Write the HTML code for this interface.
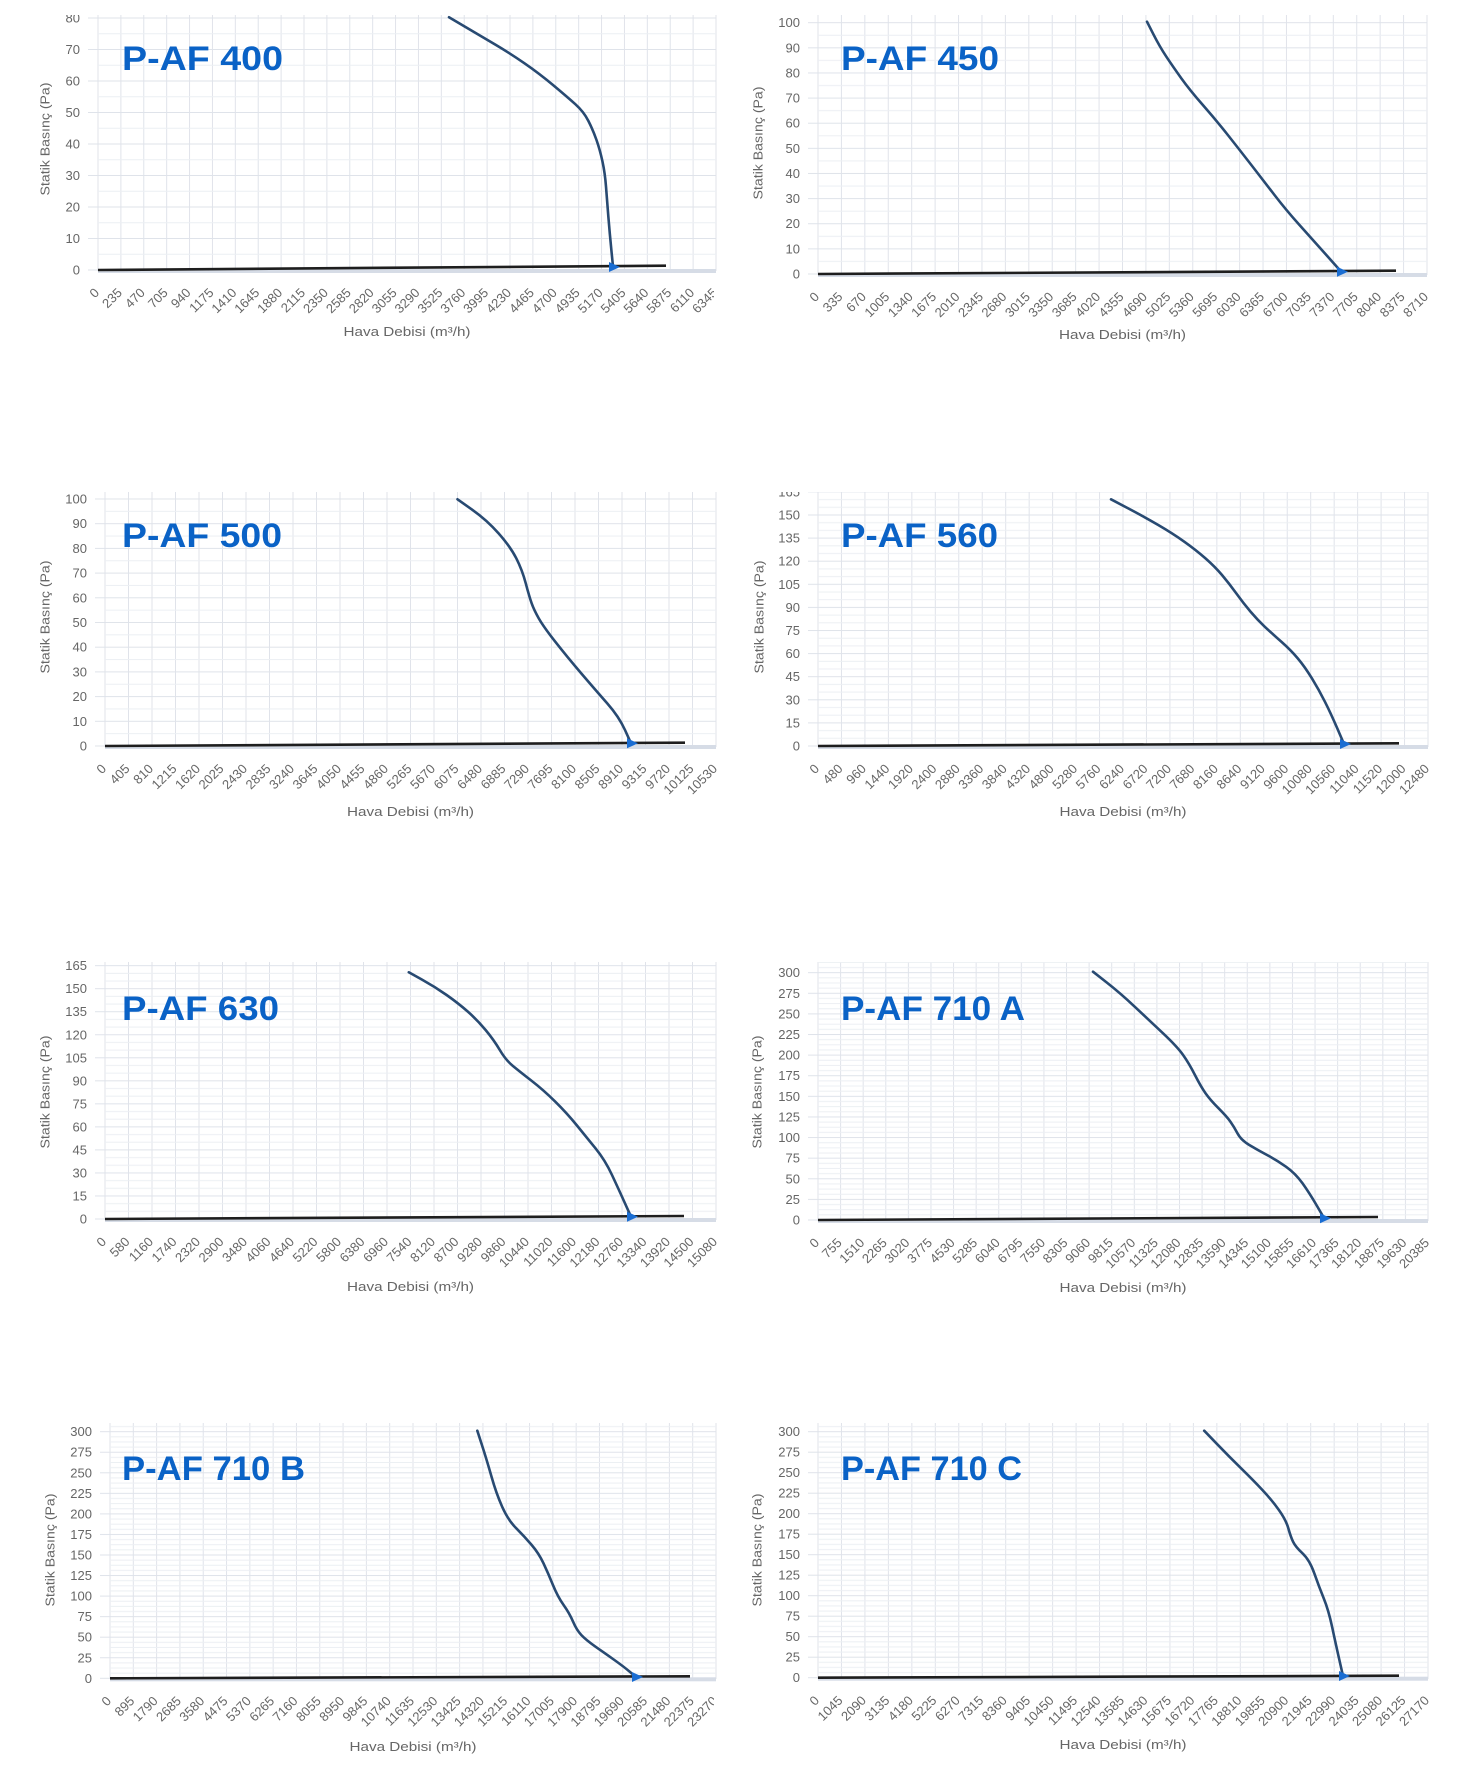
<!DOCTYPE html>
<html><head><meta charset="utf-8"><style>
html,body{margin:0;padding:0;background:#fff;}
svg{display:block;}
text{font-family:"Liberation Sans",Arial,sans-serif;}
.xl text{font-size:13px;fill:#666;text-anchor:end;transform:rotate(-45deg);}
.yl text{font-size:13px;fill:#666;text-anchor:end;}
.at{font-size:13px;fill:#666;text-anchor:middle;}
.tt{font-size:34px;font-weight:bold;fill:#0a62c6;}
.cv{fill:none;stroke:#284a72;stroke-width:2.6;stroke-linejoin:round;stroke-linecap:round;}
.bl{stroke:#1e1e1e;stroke-width:2.6;}
.bd{fill:#d6dce6;}
.ar{fill:#1a6dd2;}
</style></head><body>
<svg width="1473" height="1787" viewBox="0 0 1473 1787" xmlns="http://www.w3.org/2000/svg">
<rect width="1473" height="1787" fill="#fff"/>
<defs>
<clipPath id="clipL"><rect x="0" y="0" width="714" height="1787"/></clipPath>
<clipPath id="cy1"><rect x="0" y="15" width="200" height="300"/></clipPath>
<clipPath id="cy4"><rect x="700" y="492" width="200" height="300"/></clipPath>
<pattern id="v1" patternUnits="userSpaceOnUse" x="97.5" y="0" width="22.889" height="4"><rect width="1" height="4" fill="#e0e3ea"/></pattern>
<pattern id="h1" patternUnits="userSpaceOnUse" x="0" y="269.5" width="4" height="31.5"><rect width="4" height="1" fill="#dfe3ea"/><rect y="15.75" width="4" height="1" fill="#eceff3"/></pattern>
<pattern id="k1" patternUnits="userSpaceOnUse" x="0" y="269.5" width="4" height="31.5"><rect width="4" height="1" fill="#dfe3ea"/></pattern>
<pattern id="v2" patternUnits="userSpaceOnUse" x="817.5" y="0" width="23.423" height="4"><rect width="1" height="4" fill="#e0e3ea"/></pattern>
<pattern id="h2" patternUnits="userSpaceOnUse" x="0" y="273.5" width="4" height="25.13"><rect width="4" height="1" fill="#dfe3ea"/><rect y="12.565" width="4" height="1" fill="#eceff3"/></pattern>
<pattern id="k2" patternUnits="userSpaceOnUse" x="0" y="273.5" width="4" height="25.13"><rect width="4" height="1" fill="#dfe3ea"/></pattern>
<pattern id="v3" patternUnits="userSpaceOnUse" x="104.5" y="0" width="23.5" height="4"><rect width="1" height="4" fill="#e0e3ea"/></pattern>
<pattern id="h3" patternUnits="userSpaceOnUse" x="0" y="745.5" width="4" height="24.7"><rect width="4" height="1" fill="#dfe3ea"/><rect y="12.35" width="4" height="1" fill="#eceff3"/></pattern>
<pattern id="k3" patternUnits="userSpaceOnUse" x="0" y="745.5" width="4" height="24.7"><rect width="4" height="1" fill="#dfe3ea"/></pattern>
<pattern id="v4" patternUnits="userSpaceOnUse" x="817.5" y="0" width="23.462" height="4"><rect width="1" height="4" fill="#e0e3ea"/></pattern>
<pattern id="h4" patternUnits="userSpaceOnUse" x="0" y="745.5" width="4" height="23.1"><rect width="4" height="1" fill="#dfe3ea"/><rect y="7.7" width="4" height="1" fill="#eceff3"/><rect y="15.4" width="4" height="1" fill="#eceff3"/></pattern>
<pattern id="k4" patternUnits="userSpaceOnUse" x="0" y="745.5" width="4" height="23.1"><rect width="4" height="1" fill="#dfe3ea"/></pattern>
<pattern id="v5" patternUnits="userSpaceOnUse" x="104.5" y="0" width="23.5" height="4"><rect width="1" height="4" fill="#e0e3ea"/></pattern>
<pattern id="h5" patternUnits="userSpaceOnUse" x="0" y="1218.5" width="4" height="23.03"><rect width="4" height="1" fill="#dfe3ea"/><rect y="7.677" width="4" height="1" fill="#eceff3"/><rect y="15.353" width="4" height="1" fill="#eceff3"/></pattern>
<pattern id="k5" patternUnits="userSpaceOnUse" x="0" y="1218.5" width="4" height="23.03"><rect width="4" height="1" fill="#dfe3ea"/></pattern>
<pattern id="v6" patternUnits="userSpaceOnUse" x="817.5" y="0" width="22.593" height="4"><rect width="1" height="4" fill="#e0e3ea"/></pattern>
<pattern id="h6" patternUnits="userSpaceOnUse" x="0" y="1219.5" width="4" height="20.61"><rect width="4" height="1" fill="#dfe3ea"/><rect y="5.153" width="4" height="1" fill="#eceff3"/><rect y="10.305" width="4" height="1" fill="#eceff3"/><rect y="15.458" width="4" height="1" fill="#eceff3"/></pattern>
<pattern id="k6" patternUnits="userSpaceOnUse" x="0" y="1219.5" width="4" height="20.61"><rect width="4" height="1" fill="#dfe3ea"/></pattern>
<pattern id="v7" patternUnits="userSpaceOnUse" x="109.5" y="0" width="23.308" height="4"><rect width="1" height="4" fill="#e0e3ea"/></pattern>
<pattern id="h7" patternUnits="userSpaceOnUse" x="0" y="1677.8" width="4" height="20.55"><rect width="4" height="1" fill="#dfe3ea"/><rect y="5.138" width="4" height="1" fill="#eceff3"/><rect y="10.275" width="4" height="1" fill="#eceff3"/><rect y="15.413" width="4" height="1" fill="#eceff3"/></pattern>
<pattern id="k7" patternUnits="userSpaceOnUse" x="0" y="1677.8" width="4" height="20.55"><rect width="4" height="1" fill="#dfe3ea"/></pattern>
<pattern id="v8" patternUnits="userSpaceOnUse" x="817.5" y="0" width="23.462" height="4"><rect width="1" height="4" fill="#e0e3ea"/></pattern>
<pattern id="h8" patternUnits="userSpaceOnUse" x="0" y="1677.2" width="4" height="20.5"><rect width="4" height="1" fill="#dfe3ea"/><rect y="5.125" width="4" height="1" fill="#eceff3"/><rect y="10.25" width="4" height="1" fill="#eceff3"/><rect y="15.375" width="4" height="1" fill="#eceff3"/></pattern>
<pattern id="k8" patternUnits="userSpaceOnUse" x="0" y="1677.2" width="4" height="20.5"><rect width="4" height="1" fill="#dfe3ea"/></pattern>
</defs>

<!-- C1 P-AF 400 -->
<rect x="97.5" y="15" width="619.1" height="256" fill="url(#v1)"/>
<rect x="98" y="15" width="618" height="256" fill="url(#h1)"/>
<rect x="88" y="15" width="10" height="256" fill="url(#k1)"/>
<rect class="bd" x="98" y="269" width="618" height="4"/>
<line class="bl" x1="98" y1="270" x2="666" y2="265.7"/>
<path class="cv" d="M449,17.3 L465.5,27 Q482,36.7 496,45 Q510,53.3 524.5,63.3 Q539,73.3 553,85 Q567,96.7 575.35,104.2 Q583.7,111.7 588.35,120.85 Q593,130 596.5,140 Q600,150 602.5,161.65 Q605,173.3 606,186.65 Q607,200 608.35,216.65 Q609.7,233.3 611.35,249.9 L613,266.5"/>
<polygon class="ar" points="609,262 620,267 609,272"/>
<text class="tt" x="122" y="70" textLength="161" lengthAdjust="spacingAndGlyphs">P-AF 400</text>
<g class="yl" clip-path="url(#cy1)"><g transform="translate(80,274.5)"><text>0</text><g transform="translate(0,-31.5)"><text>10</text><g transform="translate(0,-31.5)"><text>20</text><g transform="translate(0,-31.5)"><text>30</text><g transform="translate(0,-31.5)"><text>40</text><g transform="translate(0,-31.5)"><text>50</text><g transform="translate(0,-31.5)"><text>60</text><g transform="translate(0,-31.5)"><text>70</text><g transform="translate(0,-31.5)"><text>80</text></g></g></g></g></g></g></g></g></g></g>
<g clip-path="url(#clipL)"><g class="xl" transform="translate(100,293.5)"><text>0</text><g transform="translate(22.889)"><text>235</text><g transform="translate(22.889)"><text>470</text><g transform="translate(22.889)"><text>705</text><g transform="translate(22.889)"><text>940</text><g transform="translate(22.889)"><text>1175</text><g transform="translate(22.889)"><text>1410</text><g transform="translate(22.889)"><text>1645</text><g transform="translate(22.889)"><text>1880</text><g transform="translate(22.889)"><text>2115</text><g transform="translate(22.889)"><text>2350</text><g transform="translate(22.889)"><text>2585</text><g transform="translate(22.889)"><text>2820</text><g transform="translate(22.889)"><text>3055</text><g transform="translate(22.889)"><text>3290</text><g transform="translate(22.889)"><text>3525</text><g transform="translate(22.889)"><text>3760</text><g transform="translate(22.889)"><text>3995</text><g transform="translate(22.889)"><text>4230</text><g transform="translate(22.889)"><text>4465</text><g transform="translate(22.889)"><text>4700</text><g transform="translate(22.889)"><text>4935</text><g transform="translate(22.889)"><text>5170</text><g transform="translate(22.889)"><text>5405</text><g transform="translate(22.889)"><text>5640</text><g transform="translate(22.889)"><text>5875</text><g transform="translate(22.889)"><text>6110</text><g transform="translate(22.889)"><text>6345</text></g></g></g></g></g></g></g></g></g></g></g></g></g></g></g></g></g></g></g></g></g></g></g></g></g></g></g></g></g>
<text class="at" x="407" y="336" textLength="127" lengthAdjust="spacingAndGlyphs">Hava Debisi (m³/h)</text>
<text class="at" transform="translate(49.5,139) rotate(-90)" textLength="113" lengthAdjust="spacingAndGlyphs">Statik Basınç (Pa)</text>

<!-- C2 P-AF 450 -->
<rect x="817.5" y="15" width="610.1" height="260" fill="url(#v2)"/>
<rect x="818" y="15" width="609" height="260" fill="url(#h2)"/>
<rect x="808" y="15" width="10" height="260" fill="url(#k2)"/>
<rect class="bd" x="818" y="273" width="609" height="4"/>
<line class="bl" x1="818" y1="274" x2="1396" y2="270.7"/>
<path class="cv" d="M1147,21.7 L1153.35,34.2 Q1159.7,46.7 1166.35,56.7 Q1173,66.7 1181.35,78.35 Q1189.7,90 1202.85,105 Q1216,120 1227.85,135 Q1239.7,150 1251.35,165 Q1263,180 1274.5,195 Q1286,210 1299.5,225 Q1313,240 1327,255.75 L1341,271.5"/>
<polygon class="ar" points="1337,266.7 1348,271.7 1337,276.7"/>
<text class="tt" x="841" y="70" textLength="158" lengthAdjust="spacingAndGlyphs">P-AF 450</text>
<g class="yl"><g transform="translate(800,278.5)"><text>0</text><g transform="translate(0,-25.13)"><text>10</text><g transform="translate(0,-25.13)"><text>20</text><g transform="translate(0,-25.13)"><text>30</text><g transform="translate(0,-25.13)"><text>40</text><g transform="translate(0,-25.13)"><text>50</text><g transform="translate(0,-25.13)"><text>60</text><g transform="translate(0,-25.13)"><text>70</text><g transform="translate(0,-25.13)"><text>80</text><g transform="translate(0,-25.13)"><text>90</text><g transform="translate(0,-25.13)"><text>100</text></g></g></g></g></g></g></g></g></g></g></g></g>
<g class="xl" transform="translate(820,297.5)"><text>0</text><g transform="translate(23.423)"><text>335</text><g transform="translate(23.423)"><text>670</text><g transform="translate(23.423)"><text>1005</text><g transform="translate(23.423)"><text>1340</text><g transform="translate(23.423)"><text>1675</text><g transform="translate(23.423)"><text>2010</text><g transform="translate(23.423)"><text>2345</text><g transform="translate(23.423)"><text>2680</text><g transform="translate(23.423)"><text>3015</text><g transform="translate(23.423)"><text>3350</text><g transform="translate(23.423)"><text>3685</text><g transform="translate(23.423)"><text>4020</text><g transform="translate(23.423)"><text>4355</text><g transform="translate(23.423)"><text>4690</text><g transform="translate(23.423)"><text>5025</text><g transform="translate(23.423)"><text>5360</text><g transform="translate(23.423)"><text>5695</text><g transform="translate(23.423)"><text>6030</text><g transform="translate(23.423)"><text>6365</text><g transform="translate(23.423)"><text>6700</text><g transform="translate(23.423)"><text>7035</text><g transform="translate(23.423)"><text>7370</text><g transform="translate(23.423)"><text>7705</text><g transform="translate(23.423)"><text>8040</text><g transform="translate(23.423)"><text>8375</text><g transform="translate(23.423)"><text>8710</text></g></g></g></g></g></g></g></g></g></g></g></g></g></g></g></g></g></g></g></g></g></g></g></g></g></g></g>
<text class="at" x="1122.5" y="339" textLength="127" lengthAdjust="spacingAndGlyphs">Hava Debisi (m³/h)</text>
<text class="at" transform="translate(762.5,143) rotate(-90)" textLength="113" lengthAdjust="spacingAndGlyphs">Statik Basınç (Pa)</text>

<!-- C3 P-AF 500 -->
<rect x="104.5" y="492" width="612.1" height="255" fill="url(#v3)"/>
<rect x="105" y="492" width="611" height="255" fill="url(#h3)"/>
<rect x="95" y="492" width="10" height="255" fill="url(#k3)"/>
<rect class="bd" x="105" y="745" width="611" height="4"/>
<line class="bl" x1="105" y1="746" x2="685" y2="742.7"/>
<path class="cv" d="M457.5,499.3 L472.15,509.65 Q486.8,520 498.6,533.35 Q510.4,546.7 516.3,558.35 Q522.2,570 525.75,583.35 Q529.3,596.7 531.65,603.35 Q534,610 538.75,618.35 Q543.5,626.7 555.25,641.7 Q567,656.7 581.25,673.35 Q595.5,690 607.25,703.35 Q619,716.7 625,730 L631,743.3"/>
<polygon class="ar" points="627,738.3 638,743.3 627,748.3"/>
<text class="tt" x="122" y="547" textLength="160" lengthAdjust="spacingAndGlyphs">P-AF 500</text>
<g class="yl"><g transform="translate(87,750.5)"><text>0</text><g transform="translate(0,-24.7)"><text>10</text><g transform="translate(0,-24.7)"><text>20</text><g transform="translate(0,-24.7)"><text>30</text><g transform="translate(0,-24.7)"><text>40</text><g transform="translate(0,-24.7)"><text>50</text><g transform="translate(0,-24.7)"><text>60</text><g transform="translate(0,-24.7)"><text>70</text><g transform="translate(0,-24.7)"><text>80</text><g transform="translate(0,-24.7)"><text>90</text><g transform="translate(0,-24.7)"><text>100</text></g></g></g></g></g></g></g></g></g></g></g></g>
<g class="xl" transform="translate(107,769.5)"><text>0</text><g transform="translate(23.5)"><text>405</text><g transform="translate(23.5)"><text>810</text><g transform="translate(23.5)"><text>1215</text><g transform="translate(23.5)"><text>1620</text><g transform="translate(23.5)"><text>2025</text><g transform="translate(23.5)"><text>2430</text><g transform="translate(23.5)"><text>2835</text><g transform="translate(23.5)"><text>3240</text><g transform="translate(23.5)"><text>3645</text><g transform="translate(23.5)"><text>4050</text><g transform="translate(23.5)"><text>4455</text><g transform="translate(23.5)"><text>4860</text><g transform="translate(23.5)"><text>5265</text><g transform="translate(23.5)"><text>5670</text><g transform="translate(23.5)"><text>6075</text><g transform="translate(23.5)"><text>6480</text><g transform="translate(23.5)"><text>6885</text><g transform="translate(23.5)"><text>7290</text><g transform="translate(23.5)"><text>7695</text><g transform="translate(23.5)"><text>8100</text><g transform="translate(23.5)"><text>8505</text><g transform="translate(23.5)"><text>8910</text><g transform="translate(23.5)"><text>9315</text><g transform="translate(23.5)"><text>9720</text><g transform="translate(23.5)"><text>10125</text><g transform="translate(23.5)"><text>10530</text></g></g></g></g></g></g></g></g></g></g></g></g></g></g></g></g></g></g></g></g></g></g></g></g></g></g></g>
<text class="at" x="410.5" y="816" textLength="127" lengthAdjust="spacingAndGlyphs">Hava Debisi (m³/h)</text>
<text class="at" transform="translate(49.5,617) rotate(-90)" textLength="113" lengthAdjust="spacingAndGlyphs">Statik Basınç (Pa)</text>

<!-- C4 P-AF 560 -->
<rect x="817.5" y="492" width="611.1" height="255" fill="url(#v4)"/>
<rect x="818" y="492" width="610" height="255" fill="url(#h4)"/>
<rect x="808" y="492" width="10" height="255" fill="url(#k4)"/>
<rect class="bd" x="818" y="745" width="610" height="4"/>
<line class="bl" x1="818" y1="746" x2="1399" y2="743.3"/>
<path class="cv" d="M1111,499.3 L1127.5,508 Q1144,516.7 1158.25,525 Q1172.5,533.3 1184.25,541.65 Q1196,550 1205.5,558.35 Q1215,566.7 1222,575 Q1229,583.3 1236.2,593.3 Q1243.4,603.3 1250.5,611.65 Q1257.6,620 1264.7,626.65 Q1271.8,633.3 1281.25,641.65 Q1290.7,650 1297.75,658.35 Q1304.8,666.7 1311.9,678.35 Q1319,690 1324.9,701.65 Q1330.8,713.3 1337.4,728.65 L1344,744"/>
<polygon class="ar" points="1340,739 1351,744 1340,749"/>
<text class="tt" x="841" y="547" textLength="157" lengthAdjust="spacingAndGlyphs">P-AF 560</text>
<g class="yl" clip-path="url(#cy4)"><g transform="translate(800,750.5)"><text>0</text><g transform="translate(0,-23.1)"><text>15</text><g transform="translate(0,-23.1)"><text>30</text><g transform="translate(0,-23.1)"><text>45</text><g transform="translate(0,-23.1)"><text>60</text><g transform="translate(0,-23.1)"><text>75</text><g transform="translate(0,-23.1)"><text>90</text><g transform="translate(0,-23.1)"><text>105</text><g transform="translate(0,-23.1)"><text>120</text><g transform="translate(0,-23.1)"><text>135</text><g transform="translate(0,-23.1)"><text>150</text><g transform="translate(0,-23.1)"><text>165</text></g></g></g></g></g></g></g></g></g></g></g></g></g>
<g class="xl" transform="translate(820,769.5)"><text>0</text><g transform="translate(23.462)"><text>480</text><g transform="translate(23.462)"><text>960</text><g transform="translate(23.462)"><text>1440</text><g transform="translate(23.462)"><text>1920</text><g transform="translate(23.462)"><text>2400</text><g transform="translate(23.462)"><text>2880</text><g transform="translate(23.462)"><text>3360</text><g transform="translate(23.462)"><text>3840</text><g transform="translate(23.462)"><text>4320</text><g transform="translate(23.462)"><text>4800</text><g transform="translate(23.462)"><text>5280</text><g transform="translate(23.462)"><text>5760</text><g transform="translate(23.462)"><text>6240</text><g transform="translate(23.462)"><text>6720</text><g transform="translate(23.462)"><text>7200</text><g transform="translate(23.462)"><text>7680</text><g transform="translate(23.462)"><text>8160</text><g transform="translate(23.462)"><text>8640</text><g transform="translate(23.462)"><text>9120</text><g transform="translate(23.462)"><text>9600</text><g transform="translate(23.462)"><text>10080</text><g transform="translate(23.462)"><text>10560</text><g transform="translate(23.462)"><text>11040</text><g transform="translate(23.462)"><text>11520</text><g transform="translate(23.462)"><text>12000</text><g transform="translate(23.462)"><text>12480</text></g></g></g></g></g></g></g></g></g></g></g></g></g></g></g></g></g></g></g></g></g></g></g></g></g></g></g>
<text class="at" x="1123" y="816" textLength="127" lengthAdjust="spacingAndGlyphs">Hava Debisi (m³/h)</text>
<text class="at" transform="translate(763.5,617) rotate(-90)" textLength="113" lengthAdjust="spacingAndGlyphs">Statik Basınç (Pa)</text>

<!-- C5 P-AF 630 -->
<rect x="104.5" y="962" width="612.1" height="258" fill="url(#v5)"/>
<rect x="105" y="962" width="611" height="258" fill="url(#h5)"/>
<rect x="95" y="962" width="10" height="258" fill="url(#k5)"/>
<rect class="bd" x="105" y="1218" width="611" height="4"/>
<line class="bl" x1="105" y1="1219" x2="684" y2="1216"/>
<path class="cv" d="M408.8,972.3 L421.8,979.5 Q434.8,986.7 446.6,995 Q458.4,1003.3 467.85,1011.65 Q477.3,1020 485.6,1030 Q493.9,1040 499.8,1050 Q505.7,1060 512.8,1065.85 Q519.9,1071.7 531.7,1080.85 Q543.5,1090 555.3,1101.65 Q567.1,1113.3 576.55,1125 Q586,1136.7 595.5,1148.35 Q605,1160 612,1175 Q619,1190 625,1203.35 L631,1216.7"/>
<polygon class="ar" points="627,1211.7 638,1216.7 627,1221.7"/>
<text class="tt" x="122" y="1020" textLength="157" lengthAdjust="spacingAndGlyphs">P-AF 630</text>
<g class="yl"><g transform="translate(87,1223.5)"><text>0</text><g transform="translate(0,-23.03)"><text>15</text><g transform="translate(0,-23.03)"><text>30</text><g transform="translate(0,-23.03)"><text>45</text><g transform="translate(0,-23.03)"><text>60</text><g transform="translate(0,-23.03)"><text>75</text><g transform="translate(0,-23.03)"><text>90</text><g transform="translate(0,-23.03)"><text>105</text><g transform="translate(0,-23.03)"><text>120</text><g transform="translate(0,-23.03)"><text>135</text><g transform="translate(0,-23.03)"><text>150</text><g transform="translate(0,-23.03)"><text>165</text></g></g></g></g></g></g></g></g></g></g></g></g></g>
<g class="xl" transform="translate(107,1242.5)"><text>0</text><g transform="translate(23.5)"><text>580</text><g transform="translate(23.5)"><text>1160</text><g transform="translate(23.5)"><text>1740</text><g transform="translate(23.5)"><text>2320</text><g transform="translate(23.5)"><text>2900</text><g transform="translate(23.5)"><text>3480</text><g transform="translate(23.5)"><text>4060</text><g transform="translate(23.5)"><text>4640</text><g transform="translate(23.5)"><text>5220</text><g transform="translate(23.5)"><text>5800</text><g transform="translate(23.5)"><text>6380</text><g transform="translate(23.5)"><text>6960</text><g transform="translate(23.5)"><text>7540</text><g transform="translate(23.5)"><text>8120</text><g transform="translate(23.5)"><text>8700</text><g transform="translate(23.5)"><text>9280</text><g transform="translate(23.5)"><text>9860</text><g transform="translate(23.5)"><text>10440</text><g transform="translate(23.5)"><text>11020</text><g transform="translate(23.5)"><text>11600</text><g transform="translate(23.5)"><text>12180</text><g transform="translate(23.5)"><text>12760</text><g transform="translate(23.5)"><text>13340</text><g transform="translate(23.5)"><text>13920</text><g transform="translate(23.5)"><text>14500</text><g transform="translate(23.5)"><text>15080</text></g></g></g></g></g></g></g></g></g></g></g></g></g></g></g></g></g></g></g></g></g></g></g></g></g></g></g>
<text class="at" x="410.5" y="1291" textLength="127" lengthAdjust="spacingAndGlyphs">Hava Debisi (m³/h)</text>
<text class="at" transform="translate(49.5,1092) rotate(-90)" textLength="113" lengthAdjust="spacingAndGlyphs">Statik Basınç (Pa)</text>

<!-- C6 P-AF 710 A -->
<rect x="817.5" y="962" width="611.1" height="259" fill="url(#v6)"/>
<rect x="818" y="962" width="610" height="259" fill="url(#h6)"/>
<rect x="808" y="962" width="10" height="259" fill="url(#k6)"/>
<rect class="bd" x="818" y="1219" width="610" height="4"/>
<line class="bl" x1="818" y1="1220" x2="1378" y2="1217"/>
<path class="cv" d="M1093,971.7 L1106.75,982.5 Q1120.5,993.3 1134.7,1006.65 Q1148.9,1020 1163.05,1033.35 Q1177.2,1046.7 1183.1,1055 Q1189,1063.3 1194.95,1075 Q1200.9,1086.7 1205.6,1093.35 Q1210.3,1100 1218.6,1108.35 Q1226.9,1116.7 1230.45,1121.7 Q1234,1126.7 1237.5,1133.35 Q1241,1140 1249.3,1145 Q1257.6,1150 1267.05,1155 Q1276.5,1160 1285.95,1166.65 Q1295.4,1173.3 1302.5,1183.3 Q1309.6,1193.3 1316.8,1205.65 L1324,1218"/>
<polygon class="ar" points="1320,1213.3 1331,1218.3 1320,1223.3"/>
<text class="tt" x="841" y="1020" textLength="184" lengthAdjust="spacingAndGlyphs">P-AF 710 A</text>
<g class="yl"><g transform="translate(800,1224.5)"><text>0</text><g transform="translate(0,-20.61)"><text>25</text><g transform="translate(0,-20.61)"><text>50</text><g transform="translate(0,-20.61)"><text>75</text><g transform="translate(0,-20.61)"><text>100</text><g transform="translate(0,-20.61)"><text>125</text><g transform="translate(0,-20.61)"><text>150</text><g transform="translate(0,-20.61)"><text>175</text><g transform="translate(0,-20.61)"><text>200</text><g transform="translate(0,-20.61)"><text>225</text><g transform="translate(0,-20.61)"><text>250</text><g transform="translate(0,-20.61)"><text>275</text><g transform="translate(0,-20.61)"><text>300</text></g></g></g></g></g></g></g></g></g></g></g></g></g></g>
<g class="xl" transform="translate(820,1243.5)"><text>0</text><g transform="translate(22.593)"><text>755</text><g transform="translate(22.593)"><text>1510</text><g transform="translate(22.593)"><text>2265</text><g transform="translate(22.593)"><text>3020</text><g transform="translate(22.593)"><text>3775</text><g transform="translate(22.593)"><text>4530</text><g transform="translate(22.593)"><text>5285</text><g transform="translate(22.593)"><text>6040</text><g transform="translate(22.593)"><text>6795</text><g transform="translate(22.593)"><text>7550</text><g transform="translate(22.593)"><text>8305</text><g transform="translate(22.593)"><text>9060</text><g transform="translate(22.593)"><text>9815</text><g transform="translate(22.593)"><text>10570</text><g transform="translate(22.593)"><text>11325</text><g transform="translate(22.593)"><text>12080</text><g transform="translate(22.593)"><text>12835</text><g transform="translate(22.593)"><text>13590</text><g transform="translate(22.593)"><text>14345</text><g transform="translate(22.593)"><text>15100</text><g transform="translate(22.593)"><text>15855</text><g transform="translate(22.593)"><text>16610</text><g transform="translate(22.593)"><text>17365</text><g transform="translate(22.593)"><text>18120</text><g transform="translate(22.593)"><text>18875</text><g transform="translate(22.593)"><text>19630</text><g transform="translate(22.593)"><text>20385</text></g></g></g></g></g></g></g></g></g></g></g></g></g></g></g></g></g></g></g></g></g></g></g></g></g></g></g></g>
<text class="at" x="1123" y="1292" textLength="127" lengthAdjust="spacingAndGlyphs">Hava Debisi (m³/h)</text>
<text class="at" transform="translate(761.5,1092) rotate(-90)" textLength="113" lengthAdjust="spacingAndGlyphs">Statik Basınç (Pa)</text>

<!-- C7 P-AF 710 B -->
<rect x="109.5" y="1423" width="607.1" height="256" fill="url(#v7)"/>
<rect x="110" y="1423" width="606" height="256" fill="url(#h7)"/>
<rect x="100" y="1423" width="10" height="256" fill="url(#k7)"/>
<rect class="bd" x="110" y="1677.3" width="606" height="4"/>
<line class="bl" x1="110" y1="1678.3" x2="690" y2="1676.3"/>
<path class="cv" d="M477.3,1430.7 L482.05,1445.35 Q486.8,1460 491.5,1476.65 Q496.2,1493.3 502.1,1506.65 Q508,1520 516.3,1528.35 Q524.6,1536.7 531.7,1545 Q538.8,1553.3 543.5,1563.3 Q548.2,1573.3 552.95,1585 Q557.7,1596.7 563.6,1605 Q569.5,1613.3 573.05,1621.65 Q576.6,1630 581.3,1635 Q586,1640 595.5,1646.65 Q605,1653.3 614.4,1660 Q623.8,1666.7 629.9,1671.85 L636,1677"/>
<polygon class="ar" points="632,1672 643,1677 632,1682"/>
<text class="tt" x="122" y="1480" textLength="183" lengthAdjust="spacingAndGlyphs">P-AF 710 B</text>
<g class="yl"><g transform="translate(92,1682.8)"><text>0</text><g transform="translate(0,-20.55)"><text>25</text><g transform="translate(0,-20.55)"><text>50</text><g transform="translate(0,-20.55)"><text>75</text><g transform="translate(0,-20.55)"><text>100</text><g transform="translate(0,-20.55)"><text>125</text><g transform="translate(0,-20.55)"><text>150</text><g transform="translate(0,-20.55)"><text>175</text><g transform="translate(0,-20.55)"><text>200</text><g transform="translate(0,-20.55)"><text>225</text><g transform="translate(0,-20.55)"><text>250</text><g transform="translate(0,-20.55)"><text>275</text><g transform="translate(0,-20.55)"><text>300</text></g></g></g></g></g></g></g></g></g></g></g></g></g></g>
<g clip-path="url(#clipL)"><g class="xl" transform="translate(112,1701.8)"><text>0</text><g transform="translate(23.308)"><text>895</text><g transform="translate(23.308)"><text>1790</text><g transform="translate(23.308)"><text>2685</text><g transform="translate(23.308)"><text>3580</text><g transform="translate(23.308)"><text>4475</text><g transform="translate(23.308)"><text>5370</text><g transform="translate(23.308)"><text>6265</text><g transform="translate(23.308)"><text>7160</text><g transform="translate(23.308)"><text>8055</text><g transform="translate(23.308)"><text>8950</text><g transform="translate(23.308)"><text>9845</text><g transform="translate(23.308)"><text>10740</text><g transform="translate(23.308)"><text>11635</text><g transform="translate(23.308)"><text>12530</text><g transform="translate(23.308)"><text>13425</text><g transform="translate(23.308)"><text>14320</text><g transform="translate(23.308)"><text>15215</text><g transform="translate(23.308)"><text>16110</text><g transform="translate(23.308)"><text>17005</text><g transform="translate(23.308)"><text>17900</text><g transform="translate(23.308)"><text>18795</text><g transform="translate(23.308)"><text>19690</text><g transform="translate(23.308)"><text>20585</text><g transform="translate(23.308)"><text>21480</text><g transform="translate(23.308)"><text>22375</text><g transform="translate(23.308)"><text>23270</text></g></g></g></g></g></g></g></g></g></g></g></g></g></g></g></g></g></g></g></g></g></g></g></g></g></g></g></g>
<text class="at" x="413" y="1751" textLength="127" lengthAdjust="spacingAndGlyphs">Hava Debisi (m³/h)</text>
<text class="at" transform="translate(54.5,1550) rotate(-90)" textLength="113" lengthAdjust="spacingAndGlyphs">Statik Basınç (Pa)</text>

<!-- C8 P-AF 710 C -->
<rect x="817.5" y="1423" width="611.1" height="256" fill="url(#v8)"/>
<rect x="818" y="1423" width="610" height="256" fill="url(#h8)"/>
<rect x="808" y="1423" width="10" height="256" fill="url(#k8)"/>
<rect class="bd" x="818" y="1676.7" width="610" height="4"/>
<line class="bl" x1="818" y1="1677.7" x2="1399" y2="1675.7"/>
<path class="cv" d="M1204.2,1430.7 L1216.7,1443.7 Q1229.2,1456.7 1241.1,1468.35 Q1253,1480 1262.4,1490 Q1271.8,1500 1278.9,1510 Q1286,1520 1288.35,1528.35 Q1290.7,1536.7 1293.05,1541.7 Q1295.4,1546.7 1302.5,1553.35 Q1309.6,1560 1314.3,1573.35 Q1319,1586.7 1323.75,1598.35 Q1328.5,1610 1332.05,1626.65 Q1335.6,1643.3 1339.3,1659.65 L1343,1676"/>
<polygon class="ar" points="1339,1671 1350,1676 1339,1681"/>
<text class="tt" x="841" y="1480" textLength="181" lengthAdjust="spacingAndGlyphs">P-AF 710 C</text>
<g class="yl"><g transform="translate(800,1682.2)"><text>0</text><g transform="translate(0,-20.5)"><text>25</text><g transform="translate(0,-20.5)"><text>50</text><g transform="translate(0,-20.5)"><text>75</text><g transform="translate(0,-20.5)"><text>100</text><g transform="translate(0,-20.5)"><text>125</text><g transform="translate(0,-20.5)"><text>150</text><g transform="translate(0,-20.5)"><text>175</text><g transform="translate(0,-20.5)"><text>200</text><g transform="translate(0,-20.5)"><text>225</text><g transform="translate(0,-20.5)"><text>250</text><g transform="translate(0,-20.5)"><text>275</text><g transform="translate(0,-20.5)"><text>300</text></g></g></g></g></g></g></g></g></g></g></g></g></g></g>
<g class="xl" transform="translate(820,1701.2)"><text>0</text><g transform="translate(23.462)"><text>1045</text><g transform="translate(23.462)"><text>2090</text><g transform="translate(23.462)"><text>3135</text><g transform="translate(23.462)"><text>4180</text><g transform="translate(23.462)"><text>5225</text><g transform="translate(23.462)"><text>6270</text><g transform="translate(23.462)"><text>7315</text><g transform="translate(23.462)"><text>8360</text><g transform="translate(23.462)"><text>9405</text><g transform="translate(23.462)"><text>10450</text><g transform="translate(23.462)"><text>11495</text><g transform="translate(23.462)"><text>12540</text><g transform="translate(23.462)"><text>13585</text><g transform="translate(23.462)"><text>14630</text><g transform="translate(23.462)"><text>15675</text><g transform="translate(23.462)"><text>16720</text><g transform="translate(23.462)"><text>17765</text><g transform="translate(23.462)"><text>18810</text><g transform="translate(23.462)"><text>19855</text><g transform="translate(23.462)"><text>20900</text><g transform="translate(23.462)"><text>21945</text><g transform="translate(23.462)"><text>22990</text><g transform="translate(23.462)"><text>24035</text><g transform="translate(23.462)"><text>25080</text><g transform="translate(23.462)"><text>26125</text><g transform="translate(23.462)"><text>27170</text></g></g></g></g></g></g></g></g></g></g></g></g></g></g></g></g></g></g></g></g></g></g></g></g></g></g></g>
<text class="at" x="1123" y="1749" textLength="127" lengthAdjust="spacingAndGlyphs">Hava Debisi (m³/h)</text>
<text class="at" transform="translate(761.5,1550) rotate(-90)" textLength="113" lengthAdjust="spacingAndGlyphs">Statik Basınç (Pa)</text>
</svg>
</body></html>
